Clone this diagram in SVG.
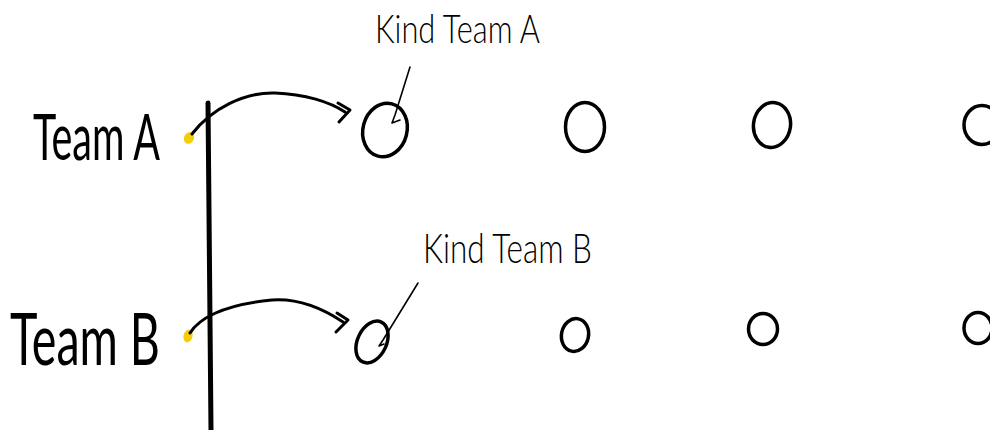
<svg xmlns="http://www.w3.org/2000/svg" width="990" height="430" viewBox="0 0 990 430">
  <style>
    .team { font-family: "Lato", "Liberation Sans", "DejaVu Sans", sans-serif; font-weight: 400; fill: #000; }
    .kind { font-family: "Lato", "Liberation Sans", "DejaVu Sans", sans-serif; font-weight: 300; fill: #000; }
    .ink { fill: none; stroke: #000; stroke-linecap: round; stroke-linejoin: round; }
    .node { fill: none; stroke: #000; stroke-width: 3.5; }
    .lead { fill: none; stroke: #000; stroke-width: 1.6; stroke-linecap: round; stroke-linejoin: round; }
    .dot { fill: #f2cf0a; }
  </style>
  <rect width="990" height="430" fill="#fff"/>

  <!-- team labels -->
  <g id="team-a">
    <text class="team" x="33" y="160" font-size="64" textLength="127" lengthAdjust="spacingAndGlyphs">Team A</text>
    <ellipse class="dot" cx="189" cy="138" rx="5" ry="6" transform="rotate(25 189 138)"/>
  </g>
  <g id="team-b">
    <text class="team" x="10" y="365" font-size="72" textLength="150" lengthAdjust="spacingAndGlyphs">Team B</text>
    <ellipse class="dot" cx="188" cy="336" rx="4.5" ry="6.5" transform="rotate(15 188 336)"/>
  </g>

  <!-- divider -->
  <g id="divider">
    <path class="ink" stroke-width="5" d="M208,103 L211,430"/>
  </g>

  <!-- child nodes, row A -->
  <g id="a1"><ellipse class="node" cx="385" cy="130" rx="22" ry="27" transform="rotate(15 385 130)"/></g>
  <g id="a2"><ellipse class="node" cx="585" cy="127" rx="19.5" ry="24.5"/></g>
  <g id="a3"><ellipse class="node" cx="772" cy="125" rx="18.5" ry="22.5" transform="rotate(8 772 125)"/></g>
  <g id="a4"><ellipse class="node" cx="982" cy="125" rx="18" ry="19.5"/></g>

  <!-- child nodes, row B -->
  <g id="b1"><ellipse class="node" cx="372" cy="342" rx="14.5" ry="22" transform="rotate(25 372 342)"/></g>
  <g id="b2"><ellipse class="node" cx="575" cy="335" rx="13.5" ry="16.5" transform="rotate(12 575 335)"/></g>
  <g id="b3"><ellipse class="node" cx="763" cy="329" rx="14.5" ry="15.5"/></g>
  <g id="b4"><ellipse class="node" cx="978" cy="328" rx="14" ry="15.5"/></g>

  <!-- annotations -->
  <g id="kind-team-a">
    <text class="kind" x="375" y="43" font-size="40" textLength="165" lengthAdjust="spacingAndGlyphs">Kind Team A</text>
  </g>
  <g id="kind-team-b">
    <text class="kind" x="423" y="263" font-size="42" textLength="169" lengthAdjust="spacingAndGlyphs">Kind Team B</text>
  </g>

  <!-- connectors -->
  <g id="connectors">
    <path class="ink" stroke-width="3" d="M192,134 C212,108 245,92 275,93 C305,94 330,102 345,112"/>
    <path class="ink" stroke-width="3" d="M338,103 L350,110 L339,122"/>
    <path class="ink" stroke-width="3" d="M190,333 C198,320 220,305 272,300 C300,298 325,310 343,322"/>
    <path class="ink" stroke-width="3" d="M337,313 L348,320 L336,332"/>
    <path class="lead" d="M410,67 L395,115 L392,123 L400,120"/>
    <path class="lead" d="M418,283 L383,340 L379,346 L384,344"/>
  </g>
</svg>
